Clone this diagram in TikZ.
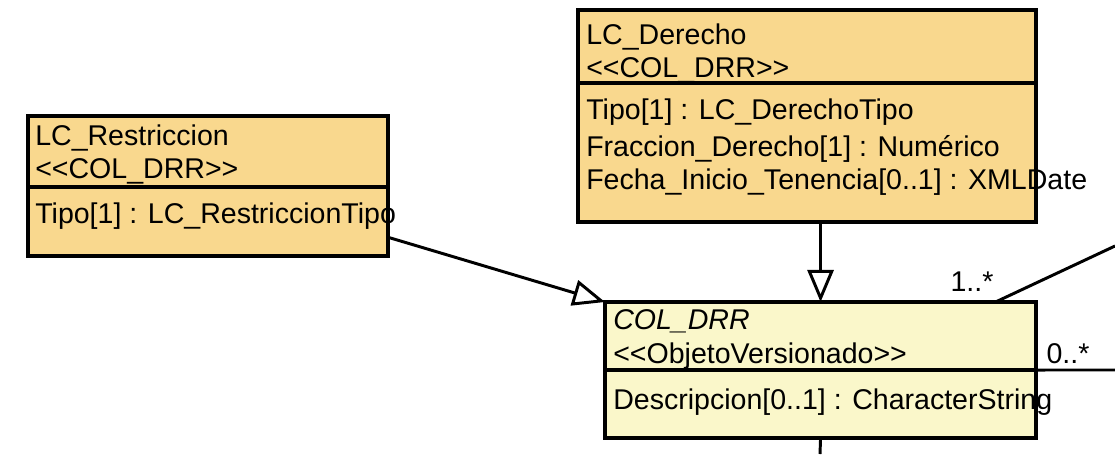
\documentclass[tikz,border=0pt]{standalone}
\usepackage{fontspec}
\setmainfont{Liberation Sans}
\usetikzlibrary{positioning, arrows.meta}

\definecolor{clsorange}{RGB}{249,216,142}
\definecolor{clsyellow}{RGB}{250,247,202}

% stereotype brackets, kept apart so they stay two characters
\newcommand{\stype}[1]{{<}{<}#1{>}{>}}

\begin{document}
\begin{tikzpicture}[
    x=0.025cm, y=-0.025cm,
    font=\fontsize{20.3}{24}\selectfont,
    orangebox/.style={draw, line width=2.8pt, fill=clsorange, inner sep=0pt, outer sep=0pt},
    yellowbox/.style={draw, line width=2.8pt, fill=clsyellow, inner sep=0pt, outer sep=0pt},
    txt/.style={anchor=base west, inner sep=0pt},
    gen/.style={-{Triangle[fill=white, length=0.8cm, width=0.65cm]}, line width=2.1pt},
    assoc/.style={line width=2.1pt}
]

\useasboundingbox (0,0) rectangle (1115,454);

% LC_Restriccion
\node[orangebox, anchor=north west, minimum width=9cm, minimum height=1.775cm] (restrH) at (28,116) {};
\node[orangebox, below=0pt of restrH, minimum width=9cm, minimum height=1.725cm] (restrB) {};
\node[txt] (restrName) at (35,145) {LC\_Restriccion};
\node[txt] (restrSt) at (35,178) {\stype{COL\_DRR}};
\node[txt] (restrA1) at (35,223) {Tipo[1] : LC\_RestriccionTipo};

% LC_Derecho
\node[orangebox, anchor=north west, minimum width=11.45cm, minimum height=1.825cm] (derH) at (578,10) {};
\node[orangebox, below=0pt of derH, minimum width=11.45cm, minimum height=3.475cm] (derB) {};
\node[txt] (derName) at (586,44) {LC\_Derecho};
\node[txt] (derSt) at (586,77) {\stype{COL\_DRR}};
\node[txt] (derA1) at (586,119) {Tipo[1] : LC\_DerechoTipo};
\node[txt] (derA2) at (586,156) {Fraccion\_Derecho[1] : Numérico};
\node[txt] (derA3) at (586,189) {Fecha\_Inicio\_Tenencia[0..1] : XMLDate};

% COL_DRR
\node[yellowbox, anchor=north west, minimum width=10.775cm, minimum height=1.7cm] (drrH) at (605,302) {};
\node[yellowbox, below=0pt of drrH, minimum width=10.775cm, minimum height=1.7cm] (drrB) {};
\node[txt] (drrName) at (613,329) {\itshape COL\_DRR};
\node[txt] (drrSt) at (613,363) {\stype{ObjetoVersionado}};
\node[txt] (drrA1) at (613,409) {Descripcion[0..1] : CharacterString};

% Generalizations
\draw[gen] (restrB.-5) -- (drrH.north west);
\draw[gen] (derB.south -| drrH.north) -- (drrH.north);

% Associations
\coordinate (assocUp) at (1115,246);
\coordinate (assocRight) at (1115,370);
\coordinate (assocDown) at (820,454);
\draw[assoc] (drrH.11.7) -- (assocUp);
\draw[assoc] (drrH.south east) -- (assocRight);
\draw[assoc] (drrB.south) -- (assocDown);
\node (mult1) at (972,282) {1..*};
\node (mult2) at (1068,354) {0..*};

\end{tikzpicture}
\end{document}
